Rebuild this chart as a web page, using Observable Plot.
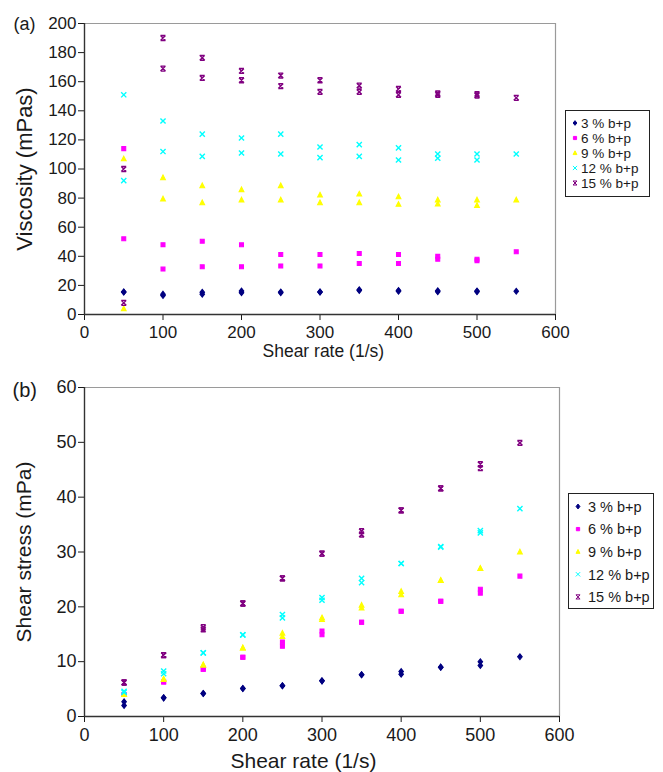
<!DOCTYPE html>
<html>
<head>
<meta charset="utf-8">
<script src="https://cdn.jsdelivr.net/npm/d3@7"></script>
<script src="https://cdn.jsdelivr.net/npm/@observablehq/plot@0.6"></script>
<style>
  html, body { margin: 0; padding: 0; background: #fff; }
  #wrap { position: relative; width: 663px; height: 772px; background: #fff; font-family: "Liberation Sans", Arial, sans-serif; }
  #wrap svg { display: block; }
</style>
</head>
<body>
<div id="wrap"></div>
<script>
// ---------- data ----------
const rates = [50, 100, 150, 200, 250, 300, 350, 400, 450, 500, 550];
const seriesNames = ["3 % b+p", "6 % b+p", "9 % b+p", "12 % b+p", "15 % b+p"];
const seriesColors = ["#000080", "#ff00ff", "#ffff00", "#00ffff", "#800080"];
const xTicks = [0, 100, 200, 300, 400, 500, 600];
const viscTicks = [0, 20, 40, 60, 80, 100, 120, 140, 160, 180, 200];
const stressTicks = [0, 10, 20, 30, 40, 50, 60];

// (a) viscosity (mPas), two replicates per shear rate
const visc3  = [[15.5,15.5],[13,14],[14,15.3],[15,16.2],[15,15.5],[15.5,15.5],[16.5,17],[16,16.5],[15.6,16.3],[15.6,16.2],[16,null]];
const visc6  = [[114,52],[48,31.2],[50.4,32.8],[47.9,32.8],[41.3,33.4],[41.3,33.4],[42,35.1],[41.3,35.1],[40,38],[37,38],[43.1,null]];
const visc9  = [[107,4],[94,79.4],[88.5,76.8],[85.8,78.7],[88.5,78.7],[82.1,76.8],[82.8,76.8],[80.9,75.7],[78.7,76],[78.7,75],[78.7,null]];
const visc12 = [[151,92],[133,112],[124,108.7],[121.3,111],[124,110.3],[115.1,107.8],[116.7,108.7],[114.5,106.2],[110.3,107.4],[110.3,106.2],[110.3,null]];
const visc15 = [[100,8],[190,169],[176.4,162.6],[167.4,161],[164.2,157],[161,153],[157.3,153],[155,151],[152,151],[151.5,150.5],[148.9,null]];

// (b) shear stress (mPa), two replicates per shear rate
const stress3  = [[2.7,2.0],[3.4,3.4],[4.2,4.2],[5.1,5.1],[5.6,5.6],[6.5,6.5],[7.6,7.6],[8.2,7.7],[9.0,9.0],[10.0,9.3],[10.9,null]];
const stress6  = [[4.0,4.0],[6.3,6.3],[8.6,8.6],[10.8,10.8],[13.6,12.8],[15.6,14.9],[17.2,17.2],[19.2,19.2],[21.0,21.0],[23.2,22.5],[25.6,null]];
const stress9  = [[4.0,4.0],[6.8,6.8],[9.4,9.4],[12.5,12.5],[15.2,14.6],[18.0,17.7],[20.3,19.8],[22.8,22.2],[24.8,24.8],[27.0,27.0],[30.0,null]];
const stress12 = [[4.6,4.4],[8.3,7.8],[11.6,11.6],[14.9,14.9],[18.6,18.0],[21.7,21.2],[25.2,24.4],[27.9,27.9],[31.0,30.9],[33.9,33.5],[37.9,null]];
const stress15 = [[6.2,6.2],[11.2,11.2],[16.3,15.9],[20.6,20.6],[25.2,25.2],[29.7,29.7],[33.8,33.2],[37.6,37.6],[41.6,41.6],[46.0,45.3],[49.9,null]];

// ---------- symbols (Excel-like markers) ----------
const K = s => Math.sqrt(s / Math.PI) / 3;
const diamond = { draw(c, s) { const k = K(s); c.moveTo(0, -2.8*k); c.lineTo(2.2*k, 0); c.lineTo(0, 2.8*k); c.lineTo(-2.2*k, 0); c.closePath(); } };
const square  = { draw(c, s) { const k = K(s); c.rect(-1.9*k, -1.9*k, 3.8*k, 3.8*k); } };
const tri     = { draw(c, s) { const k = K(s); c.moveTo(0, -2.6*k); c.lineTo(2.3*k, 1.9*k); c.lineTo(-2.3*k, 1.9*k); c.closePath(); } };
const cross   = { draw(c, s) { const h = 2.5*K(s); c.moveTo(-h,-h); c.lineTo(h,h); c.moveTo(h,-h); c.lineTo(-h,h); } };
const star    = { draw(c, s) { const h = 2.4*K(s); c.moveTo(-h,-h); c.lineTo(h,h); c.moveTo(h,-h); c.lineTo(-h,h); c.moveTo(-h,-h); c.lineTo(h,-h); c.moveTo(-h,h); c.lineTo(h,h); } };
const seriesSymbols = [diamond, square, tri, cross, star];

function table(pairs) {
  const out = [];
  pairs.forEach((p, i) => p.forEach(v => { if (v != null) out.push({rate: rates[i], v}); }));
  return out;
}
const viscData = [visc3, visc6, visc9, visc12, visc15].map(table);
const stressData = [stress3, stress6, stress9, stress12, stress15].map(table);

function dotMarks(datasets) {
  return datasets.map((d, i) => Plot.dot(d, {
    x: "rate", y: "v", symbol: seriesSymbols[i], r: 3.1,
    fill: seriesColors[i], stroke: seriesColors[i], strokeWidth: i >= 3 ? 1.4 : 1.1
  }));
}

const FONT = "'Liberation Sans', Arial, Helvetica, sans-serif";
const wrap = document.getElementById("wrap");

// ---------- chart (a) ----------
const chartA = Plot.plot({
  width: 663, height: 364,
  marginLeft: 84, marginRight: 108, marginTop: 23, marginBottom: 50,
  style: { background: "#fff", fontFamily: FONT, fontSize: "17px", color: "#1a1a1a", overflow: "visible" },
  x: { domain: [0, 600], ticks: xTicks, tickSize: 6, tickPadding: 5, label: null },
  y: { domain: [0, 200], ticks: viscTicks, tickSize: 6, tickPadding: 2, label: null },
  marks: [
    Plot.ruleY([200], { stroke: "#9a9a9a", strokeWidth: 1.2 }),
    Plot.ruleX([600], { stroke: "#9a9a9a", strokeWidth: 1.2 }),
    Plot.ruleX([0], { stroke: "#333", strokeWidth: 1.4 }),
    Plot.ruleY([0], { stroke: "#333", strokeWidth: 1.4 }),
    ...dotMarks(viscData),
    Plot.text(["(a)"], { text: d => d, frameAnchor: "top-left", dx: -71, dy: 1, textAnchor: "start", lineAnchor: "middle", fontSize: 18, fill: "#1a1a1a" }),
    Plot.text(["Viscosity (mPas)"], { text: d => d, frameAnchor: "left", dx: -60, rotate: -90, textAnchor: "middle", lineAnchor: "middle", fontSize: 22, fill: "#1a1a1a" }),
    Plot.text(["Shear rate (1/s)"], { text: d => d, frameAnchor: "bottom-left", dx: 178, dy: 37, textAnchor: "start", lineAnchor: "middle", fontSize: 17.5, fill: "#1a1a1a" })
  ]
});
wrap.appendChild(chartA);

// ---------- chart (b) ----------
const chartB = Plot.plot({
  width: 663, height: 408,
  marginLeft: 84, marginRight: 104, marginTop: 23, marginBottom: 56,
  style: { background: "#fff", fontFamily: FONT, fontSize: "18px", color: "#1a1a1a", overflow: "visible" },
  x: { domain: [0, 600], ticks: xTicks, tickSize: 6, tickPadding: 6, label: null },
  y: { domain: [0, 60], ticks: stressTicks, tickSize: 6, tickPadding: 2, label: null },
  marks: [
    Plot.ruleY([60], { stroke: "#9a9a9a", strokeWidth: 1.2 }),
    Plot.ruleX([600], { stroke: "#9a9a9a", strokeWidth: 1.2 }),
    Plot.ruleX([0], { stroke: "#333", strokeWidth: 1.4 }),
    Plot.ruleY([0], { stroke: "#333", strokeWidth: 1.4 }),
    ...dotMarks(stressData),
    Plot.text(["(b)"], { text: d => d, frameAnchor: "top-left", dx: -72, dy: 3, textAnchor: "start", lineAnchor: "middle", fontSize: 20, fill: "#1a1a1a" }),
    Plot.text(["Shear stress (mPa)"], { text: d => d, frameAnchor: "left", dx: -60, rotate: -90, textAnchor: "middle", lineAnchor: "middle", fontSize: 21, fill: "#1a1a1a" }),
    Plot.text(["Shear rate (1/s)"], { text: d => d, frameAnchor: "bottom-left", dx: 146, dy: 45, textAnchor: "start", lineAnchor: "middle", fontSize: 21, fill: "#1a1a1a" })
  ]
});
wrap.appendChild(chartB);

// ---------- legends ----------
function makeLegend(left, top, w, h, row0, step, mx, tx, fs, r) {
  const svg = d3.create("svg")
    .attr("width", w).attr("height", h)
    .style("position", "absolute").style("left", left + "px").style("top", top + "px")
    .style("font-family", FONT);
  svg.append("rect").attr("x", 0.5).attr("y", 0.5).attr("width", w - 1).attr("height", h - 1)
    .attr("fill", "#fff").attr("stroke", "#222").attr("stroke-width", 1);
  seriesNames.forEach((name, i) => {
    const p = d3.path();
    seriesSymbols[i].draw(p, r * r * Math.PI);
    const y = row0 + i * step;
    svg.append("path").attr("d", p.toString()).attr("transform", `translate(${mx},${y})`)
      .attr("fill", seriesColors[i]).attr("stroke", seriesColors[i]).attr("stroke-width", 1);
    svg.append("text").attr("x", tx).attr("y", y).attr("dy", "0.36em")
      .attr("font-size", fs).attr("fill", "#1a1a1a").text(name);
  });
  wrap.appendChild(svg.node());
}
makeLegend(565, 110, 85, 87, 13, 15, 10, 16, 13.5, 2.5);
makeLegend(568, 493, 86, 116, 13.5, 22.6, 10, 20, 14.5, 2.6);
</script>
</body>
</html>
